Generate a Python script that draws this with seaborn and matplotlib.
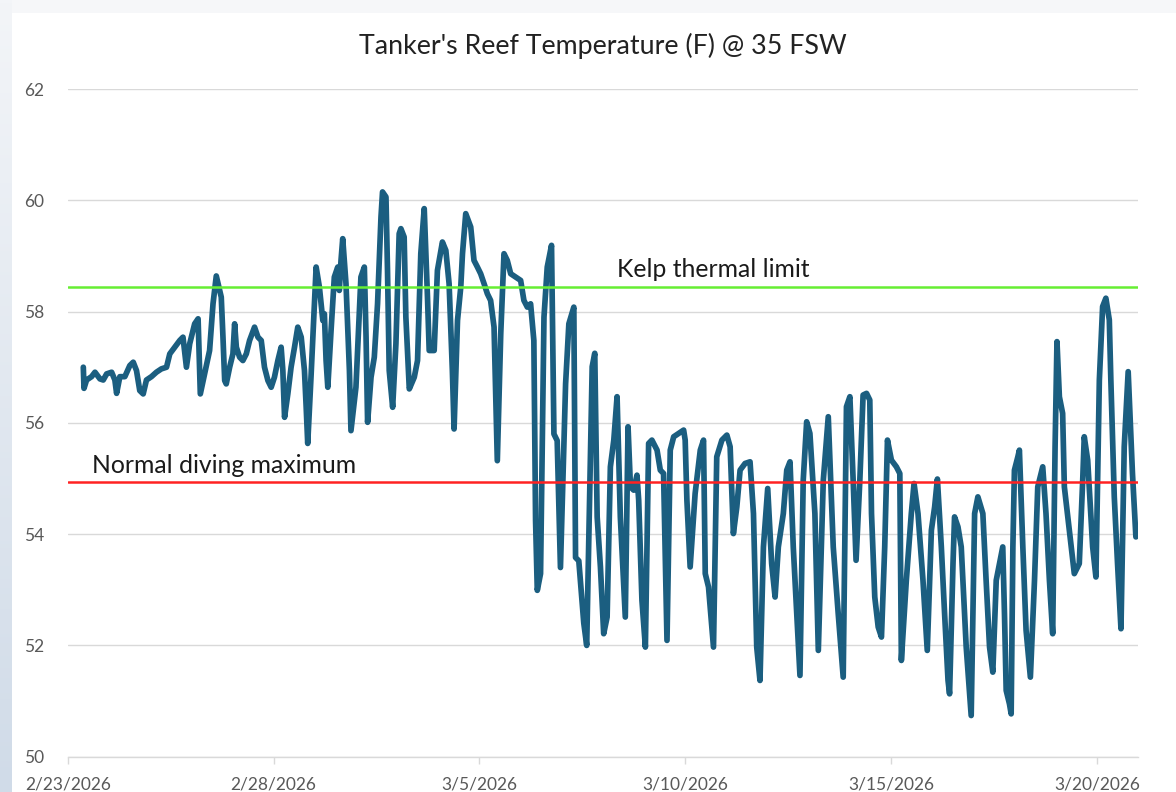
import numpy as np
import pandas as pd
import matplotlib
matplotlib.use("Agg")
import matplotlib.pyplot as plt
from matplotlib.colors import LinearSegmentedColormap
import seaborn as sns

# ---------------- data ----------------
START = "2026-02-23"
HOURS = [
    9.1, 9.5, 11.0, 13.9, 15.9, 18.8, 20.7, 22.7, 25.6, 27.5, 28.5, 30.4, 33.3, 36.2, 38.2, 40.1,
    42.0, 44.0, 45.9, 48.8, 51.7, 54.6, 57.6, 59.5, 62.4, 65.3, 67.2, 69.2, 71.1, 74.0, 76.0, 76.9,
    77.3, 79.8, 82.7, 84.7,
    86.6, 89.5, 90.5, 91.5, 92.4, 94.4, 96.3, 97.3, 98.3, 100.2, 102.1, 104.1, 106.0, 108.9, 110.9,
    112.8, 114.7, 116.7, 118.6, 120.5, 122.5, 124.4, 125.4, 126.4, 128.3, 130.2, 132.2, 134.1, 136.1,
    138.0, 139.0, 139.9, 141.9, 143.8, 144.8, 146.7, 148.7, 149.6, 150.6, 151.6, 153.5, 155.4, 157.4,
    158.3, 159.3, 160.3,
    162.2, 164.2, 165.1, 168.0, 170.9, 172.9, 173.9, 174.8, 176.8, 178.7, 180.6, 182.6, 183.5, 185.5,
    186.4, 187.4, 189.4, 191.3, 193.2, 194.2, 196.1, 197.1, 199.1, 202.0, 203.9, 205.8, 207.8, 209.7,
    210.7, 213.6, 215.5, 218.4, 220.4, 222.3, 224.2, 225.2, 227.2, 229.1, 230.1, 232.0,
    234.9, 236.8, 238.8, 240.7, 242.7, 244.6, 246.5, 248.5, 250.4, 252.4, 254.3, 256.2, 258.2, 261.1,
    264.0, 265.9, 267.9, 269.8, 271.7, 272.7, 273.7, 275.6, 277.6, 279.5, 282.0, 283.4, 285.3, 287.2,
    290.2, 292.1, 295.0, 296.0, 297.9, 300.8, 302.5,
    305.7, 307.2, 308.6, 310.5, 312.4, 314.4, 316.3, 318.3, 320.2, 322.1, 325.0, 326.6, 328.0, 329.9,
    331.8, 332.8, 334.7, 336.7, 338.6, 340.5, 343.5, 345.4, 347.3, 349.3, 351.2, 353.2, 356.1, 359.0,
    359.9, 360.9, 362.8, 365.7, 368.7, 370.6, 371.6, 373.5, 376.4, 378.3, 381.3, 384.2,
    386.1, 388.0, 390.0, 391.9, 394.8, 397.7, 399.7, 401.6, 403.5, 405.5, 408.0, 410.3, 412.3, 414.2,
    417.1, 419.1, 421.0, 422.9, 424.9, 426.8, 428.7, 430.7, 432.6, 435.5, 437.5, 440.4, 443.3, 446.2,
    449.1, 452.0, 453.9, 455.9, 457.8,
    459.5, 461.7, 463.6, 465.6, 467.5, 468.5, 470.4, 472.4, 474.3, 476.2, 477.8, 480.1, 483.0, 485.0,
    485.9, 488.8, 491.7, 493.3, 495.6, 498.5, 501.0, 503.4, 505.3, 506.9, 509.2, 511.1, 513.1, 514.0,
    516.0, 516.9, 518.9, 520.8, 523.7, 526.6, 528.6, 530.5,
    533.4, 535.3, 537.3, 539.2, 541.2, 543.1, 545.0, 546.0, 547.0, 548.9, 549.9, 550.9, 551.8, 553.8,
    554.7, 556.7, 558.6, 561.1, 563.5, 565.4, 567.3, 568.3, 570.2, 572.2, 574.1, 575.5, 576.6, 578.0,
    579.9, 580.9, 583.8, 586.7, 589.6, 591.6, 592.5, 594.5, 597.4, 599.3, 601.3, 603.2, 605.1, 607.1,
    608.0, 610.0, 611.9, 613.9, 615.8, 618.1, 620.6, 622.6,
]
TEMP_F = [
    57.00, 56.62, 56.77, 56.83, 56.91, 56.79, 56.77, 56.88, 56.91, 56.77, 56.53, 56.83, 56.83, 57.03, 57.09, 56.94,
    56.58, 56.52, 56.77, 56.83, 56.91, 56.97, 57.00, 57.24, 57.36, 57.48, 57.54, 57.00, 57.42, 57.78, 57.87, 56.94,
    56.52, 56.88, 57.30, 58.14,
    58.64, 58.26, 57.54, 56.76, 56.70, 57.00, 57.24, 57.78, 57.36, 57.18, 57.12, 57.24, 57.48, 57.72, 57.54,
    57.48, 57.00, 56.76, 56.64, 56.82, 57.12, 57.36, 56.94, 56.10, 56.52, 57.00, 57.36, 57.72, 57.54,
    56.94, 56.28, 55.63, 56.88, 58.14, 58.80, 58.44, 57.84, 57.96, 57.12, 56.64, 57.66, 58.62, 58.80,
    58.38, 58.92, 59.31,
    58.50, 56.94, 55.86, 56.64, 58.62, 58.80, 57.54, 56.01, 56.82, 57.18, 58.14, 59.70, 60.15, 60.06,
    58.74, 56.94, 56.28, 57.42, 59.40, 59.49, 59.34, 57.90, 56.61, 56.82, 57.12, 59.04, 59.85, 58.26,
    57.30, 57.30, 58.74, 59.25, 59.10, 58.50, 56.94, 55.89, 57.84, 58.44, 59.04, 59.76,
    59.52, 58.92, 58.80, 58.68, 58.50, 58.32, 58.20, 57.72, 55.32, 57.60, 59.04, 58.92, 58.68, 58.62,
    58.56, 58.20, 58.08, 58.14, 57.48, 54.24, 52.99, 53.29, 57.90, 58.80, 59.19, 55.80, 55.68, 53.40,
    56.70, 57.78, 58.08, 53.58, 53.52, 52.40, 52.00,
    57.01, 57.25, 54.31, 53.41, 52.21, 52.51, 55.21, 55.69, 56.47, 54.31, 52.51, 55.93, 54.85, 54.79,
    55.06, 54.61, 52.81, 51.97, 55.63, 55.69, 55.51, 55.15, 55.09, 52.09, 55.51, 55.75, 55.81, 55.87,
    55.69, 54.61, 53.41, 54.73, 55.51, 55.69, 53.29, 53.05, 51.97, 55.39, 55.69, 55.78,
    55.57, 54.01, 54.49, 55.15, 55.27, 55.30, 54.37, 51.97, 51.37, 53.77, 54.82, 53.47, 52.87, 53.77,
    54.37, 55.15, 55.30, 53.77, 52.57, 51.46, 54.97, 56.02, 55.81, 54.37, 51.91, 54.97, 56.11, 53.77,
    52.57, 51.43, 56.29, 56.47, 54.97,
    53.53, 54.97, 56.50, 56.53, 56.41, 54.37, 52.87, 52.33, 52.15, 53.77, 55.69, 55.33, 55.21, 55.09,
    51.73, 53.17, 54.37, 54.91, 54.37, 53.17, 51.91, 54.07, 54.49, 54.99, 53.77, 52.57, 51.37, 51.13,
    53.47, 54.31, 54.13, 53.77, 51.97, 50.74, 54.37, 54.67,
    54.37, 53.17, 51.97, 51.52, 53.17, 53.47, 53.77, 52.57, 51.19, 50.95, 50.77, 53.77, 55.15, 55.39,
    55.51, 53.77, 52.27, 51.43, 53.17, 54.85, 55.09, 55.21, 54.37, 53.17, 52.21, 55.57, 57.46, 56.47,
    56.17, 54.85, 54.07, 53.29, 53.47, 54.97, 55.75, 55.33, 53.77, 53.23, 56.77, 58.09, 58.24, 57.85,
    56.77, 54.67, 53.47, 52.30, 55.57, 56.92, 55.09, 53.95,
]
KELP_LIMIT = 58.44
DIVING_MAX = 54.93
Y_TICKS = [50, 52, 54, 56, 58, 60, 62]
X_TICK_DATES = ["2026-02-23", "2026-02-28", "2026-03-05", "2026-03-10", "2026-03-15", "2026-03-20"]
X_TICK_LABELS = ["2/23/2026", "2/28/2026", "3/5/2026", "3/10/2026", "3/15/2026", "3/20/2026"]
X_LIMITS = ["2026-02-23", "2026-03-21"]
TITLE = "Tanker's Reef Temperature (F) @ 35 FSW"
KELP_LABEL = "Kelp thermal limit"
DIVING_LABEL = "Normal diving maximum"

# ---------------- style ----------------
sns.set_theme(style="white")
plt.rcParams['font.family'] = ['Lato', 'DejaVu Sans']

W, H = 1176, 792
fig = plt.figure(figsize=(W / 100, H / 100), dpi=100)
fig.patch.set_facecolor("white")

# window-like border strips of the screenshot
top_ax = fig.add_axes([0, 1 - 13 / H, 1, 13 / H])
top_ax.set_axis_off()
top_ax.add_patch(plt.Rectangle((0, 0), 1, 1, transform=top_ax.transAxes, color="#f6f7f9"))
left_ax = fig.add_axes([0, 0, 12 / W, 1])
left_ax.set_axis_off()
grad = np.linspace(0, 1, 256).reshape(-1, 1)
cmap = LinearSegmentedColormap.from_list("edge", ["#f3f5f8", "#d0dbe8"])
left_ax.imshow(grad, aspect="auto", cmap=cmap, extent=[0, 1, 1, 0])

ax = fig.add_axes([67.7 / W, (H - 756.7) / H, (1138.3 - 67.7) / W, (756.7 - 89) / H])
ax.set_facecolor("white")

df = pd.DataFrame({
    "time": pd.Timestamp(START) + pd.to_timedelta(HOURS, unit="h"),
    "temp": TEMP_F,
})

ax.yaxis.grid(True, color="#d9d9d9", linewidth=1.0)
ax.xaxis.grid(False)
ax.set_axisbelow(True)

sns.lineplot(data=df, x="time", y="temp", ax=ax, color="#1b5e80", linewidth=4.1,
             estimator=None, sort=False, solid_joinstyle="round", solid_capstyle="round")
ax.axhline(KELP_LIMIT, color="#66ee33", linewidth=1.8, zorder=3)
ax.axhline(DIVING_MAX, color="#ff2222", linewidth=1.8, zorder=3)

ax.set_ylim(50, 62)
ax.set_yticks(Y_TICKS)
ax.set_xlim(pd.Timestamp(X_LIMITS[0]), pd.Timestamp(X_LIMITS[1]))
ax.set_xticks(pd.to_datetime(X_TICK_DATES))
ax.set_xticklabels(X_TICK_LABELS)
ax.set_xlabel("")
ax.set_ylabel("")

for s in ["top", "right", "left"]:
    ax.spines[s].set_visible(False)
ax.spines["bottom"].set_color("#d9d9d9")
ax.spines["bottom"].set_linewidth(1.0)

ax.tick_params(axis="x", which="major", direction="out", length=5, width=1, color="#d9d9d9",
               labelsize=12.5, labelcolor="#595959", pad=9, bottom=True)
ax.tick_params(axis="y", length=0, labelsize=12.5, labelcolor="#595959", pad=17)

ax.set_title(TITLE, fontsize=19.3, color="#222222", pad=25)

ax.text(0.513, 0.729, KELP_LABEL, transform=ax.transAxes, fontsize=17.8,
        ha="left", va="center", color="#1a1a1a")
ax.text(0.0227, 0.4354, DIVING_LABEL, transform=ax.transAxes, fontsize=17.8,
        ha="left", va="center", color="#1a1a1a")

fig.savefig("out.png", dpi=100)
